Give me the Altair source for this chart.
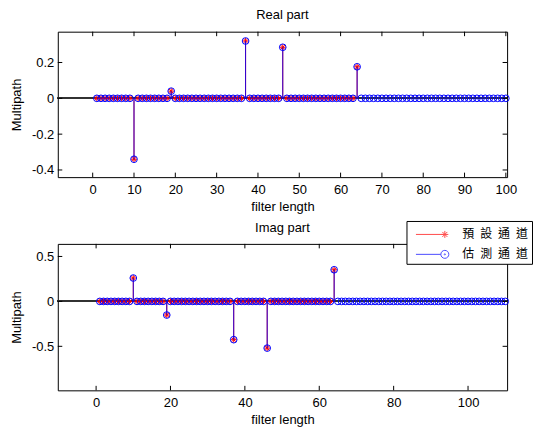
import altair as alt
import pandas as pd

# ---------------- data ----------------
series_names = ["預設通道", "估測通道"]

# tap index 1..64 (preset channel) / 1..100, 1..110 (estimated channel)
real_true = [0, 0, 0, 0, 0, 0, 0, 0, 0, -0.34,
             0, 0, 0, 0, 0, 0, 0, 0, 0.04, 0,
             0, 0, 0, 0, 0, 0, 0, 0, 0, 0,
             0, 0, 0, 0, 0, 0, 0.32, 0, 0, 0,
             0, 0, 0, 0, 0, 0.285, 0, 0, 0, 0,
             0, 0, 0, 0, 0, 0, 0, 0, 0, 0,
             0, 0, 0, 0.176]
real_est = [0, 0, 0, 0, 0, 0, 0, 0, 0, -0.34,
            0, 0, 0, 0, 0, 0, 0, 0, 0.04, 0,
            0, 0, 0, 0, 0, 0, 0, 0, 0, 0,
            0, 0, 0, 0, 0, 0, 0.32, 0, 0, 0,
            0, 0, 0, 0, 0, 0.285, 0, 0, 0, 0,
            0, 0, 0, 0, 0, 0, 0, 0, 0, 0,
            0, 0, 0, 0.176, 0, 0, 0, 0, 0, 0,
            0, 0, 0, 0, 0, 0, 0, 0, 0, 0,
            0, 0, 0, 0, 0, 0, 0, 0, 0, 0,
            0, 0, 0, 0, 0, 0, 0, 0, 0, 0]
imag_true = [0, 0, 0, 0, 0, 0, 0, 0, 0, 0.26,
             0, 0, 0, 0, 0, 0, 0, 0, -0.152, 0,
             0, 0, 0, 0, 0, 0, 0, 0, 0, 0,
             0, 0, 0, 0, 0, 0, -0.426, 0, 0, 0,
             0, 0, 0, 0, 0, -0.52, 0, 0, 0, 0,
             0, 0, 0, 0, 0, 0, 0, 0, 0, 0,
             0, 0, 0, 0.352]
imag_est = [0, 0, 0, 0, 0, 0, 0, 0, 0, 0.26,
            0, 0, 0, 0, 0, 0, 0, 0, -0.152, 0,
            0, 0, 0, 0, 0, 0, 0, 0, 0, 0,
            0, 0, 0, 0, 0, 0, -0.426, 0, 0, 0,
            0, 0, 0, 0, 0, -0.52, 0, 0, 0, 0,
            0, 0, 0, 0, 0, 0, 0, 0, 0, 0,
            0, 0, 0, 0.352, 0, 0, 0, 0, 0, 0,
            0, 0, 0, 0, 0, 0, 0, 0, 0, 0,
            0, 0, 0, 0, 0, 0, 0, 0, 0, 0,
            0, 0, 0, 0, 0, 0, 0, 0, 0, 0,
            0, 0, 0, 0, 0, 0, 0, 0, 0, 0]

real_xticks = [0, 10, 20, 30, 40, 50, 60, 70, 80, 90, 100]
real_yticks = [-0.4, -0.2, 0, 0.2]
imag_xticks = [0, 20, 40, 60, 80, 100]
imag_yticks = [-0.5, 0, 0.5]

# ---------------- styling ----------------
FONT = "Liberation Sans, Arial, sans-serif"
CJK = "Noto Sans CJK TC, sans-serif"
ASTERISK = "M-1,0L1,0M0,-1L0,1M-0.7,-0.7L0.7,0.7M-0.7,0.7L0.7,-0.7"
LEG_RED = ("M-2.9,0L0,0M-0.35,0L0.35,0M0,-0.35L0,0.35"
           "M-0.25,-0.25L0.25,0.25M-0.25,0.25L0.25,-0.25")
LEG_BLUE = ("M-2.9,0L-0.4,0M-0.4,0A0.4,0.4,0,1,0,0.4,0A0.4,0.4,0,1,0,-0.4,0"
            "M-0.06,0A0.06,0.06,0,1,0,0.06,0A0.06,0.06,0,1,0,-0.06,0")
NUMFMT = "datum.value < 0 ? '-' + format(-datum.value, '') : format(datum.value, '')"


def panel(true_vals, est_vals, xdom, ydom, xt, yt, title, w, h, title_offset, legend=False):
    df_t = pd.DataFrame({"n": list(range(1, len(true_vals) + 1)), "v": true_vals})
    df_e = pd.DataFrame({"n": list(range(1, len(est_vals) + 1)), "v": est_vals})
    xs = alt.Scale(domain=xdom, nice=False, zero=False)
    ys = alt.Scale(domain=ydom, nice=False, zero=False)
    xaxis = alt.Axis(values=xt, ticks=False, domain=False, grid=False,
                     title="filter length", labelPadding=6, titlePadding=4,
                     labelFlush=False, labelExpr=NUMFMT)
    yaxis = alt.Axis(values=yt, ticks=False, domain=False, grid=False,
                     title="Multipath", labelPadding=4, titlePadding=8,
                     labelExpr=NUMFMT)

    def X(f):
        return alt.X(f, scale=xs, axis=xaxis)

    def Y(f):
        return alt.Y(f, scale=ys, axis=yaxis)

    baseline = alt.Chart(df_e).mark_rule(color="#333333", strokeWidth=1).encode(
        y=alt.YDatum(0, scale=ys, axis=yaxis))
    stem_t = alt.Chart(df_t).mark_rule(color="red", strokeWidth=1).encode(
        x=X("n:Q"), y=Y("v:Q"), y2=alt.Y2Datum(0))
    mark_t = alt.Chart(df_t).mark_point(shape=ASTERISK, filled=False, size=36,
                                        color="red", strokeWidth=1, opacity=1).encode(
        x=X("n:Q"), y=Y("v:Q"))
    stem_e = alt.Chart(df_e).mark_rule(color="blue", strokeWidth=1, opacity=0.85).encode(
        x=X("n:Q"), y=Y("v:Q"), y2=alt.Y2Datum(0))
    mark_e = alt.Chart(df_e).mark_point(shape="circle", filled=False, size=45,
                                        color="blue", strokeWidth=1, opacity=1).encode(
        x=X("n:Q"), y=Y("v:Q"))

    xt_df = pd.DataFrame({"t": xt})
    yt_df = pd.DataFrame({"t": yt})
    tick_xb = alt.Chart(xt_df).mark_rule(color="black").encode(
        x=X("t:Q"), y=alt.value(h), y2=alt.value(h - 4.5))
    tick_xt = alt.Chart(xt_df).mark_rule(color="black").encode(
        x=X("t:Q"), y=alt.value(0), y2=alt.value(4.5))
    tick_yl = alt.Chart(yt_df).mark_rule(color="black").encode(
        y=Y("t:Q"), x=alt.value(0), x2=alt.value(4.5))
    tick_yr = alt.Chart(yt_df).mark_rule(color="black").encode(
        y=Y("t:Q"), x=alt.value(w), x2=alt.value(w - 4.5))

    layers = [baseline, stem_t, mark_t, stem_e, mark_e, tick_xb, tick_xt, tick_yl, tick_yr]

    if legend:
        leg = alt.Legend(orient="none", legendX=350, legendY=-23, title=None,
                         strokeColor="black", fillColor="white", padding=3,
                         symbolSize=400, symbolStrokeWidth=1, symbolOffset=25,
                         labelOffset=7, rowPadding=3, labelFont=CJK,
                         labelFontSize=12, labelColor="black",
                         labelExpr="join(split(datum.label, ''), '\u2002')")
        leg_layer = alt.Chart(pd.DataFrame({"s": series_names})).transform_filter(
            "false").mark_point(filled=False, strokeWidth=1).encode(
            color=alt.Color("s:N", scale=alt.Scale(domain=series_names, range=["red", "blue"]),
                            legend=leg),
            shape=alt.Shape("s:N", scale=alt.Scale(domain=series_names, range=[LEG_RED, LEG_BLUE]),
                            legend=leg))
        layers.append(leg_layer)

    return alt.layer(*layers).properties(
        width=w, height=h,
        title=alt.TitleParams(title, offset=title_offset))


top = panel(real_true, real_est, [-8.45, 100.3], [-0.44, 0.372],
            real_xticks, real_yticks, "Real part", 451, 146, 9)
bottom = panel(imag_true, imag_est, [-10.3, 110.5], [-0.99, 0.64],
               imag_xticks, imag_yticks, "Imag part", 451, 147, -15, legend=True)

chart = alt.vconcat(top, bottom, spacing=6).resolve_legend(
    color="independent", shape="independent").properties(
    padding={"left": 10, "top": 8, "right": 0, "bottom": 0},
    background="white"
).configure_axis(
    labelFont=FONT, titleFont=FONT, labelFontSize=13, titleFontSize=13,
    titleFontWeight="normal", labelColor="black", titleColor="black"
).configure_title(
    font=FONT, fontSize=13, fontWeight="normal", color="black"
).configure_view(stroke="black", strokeWidth=1)

chart.save("out.html", embed_options={"renderer": "svg", "actions": False})
